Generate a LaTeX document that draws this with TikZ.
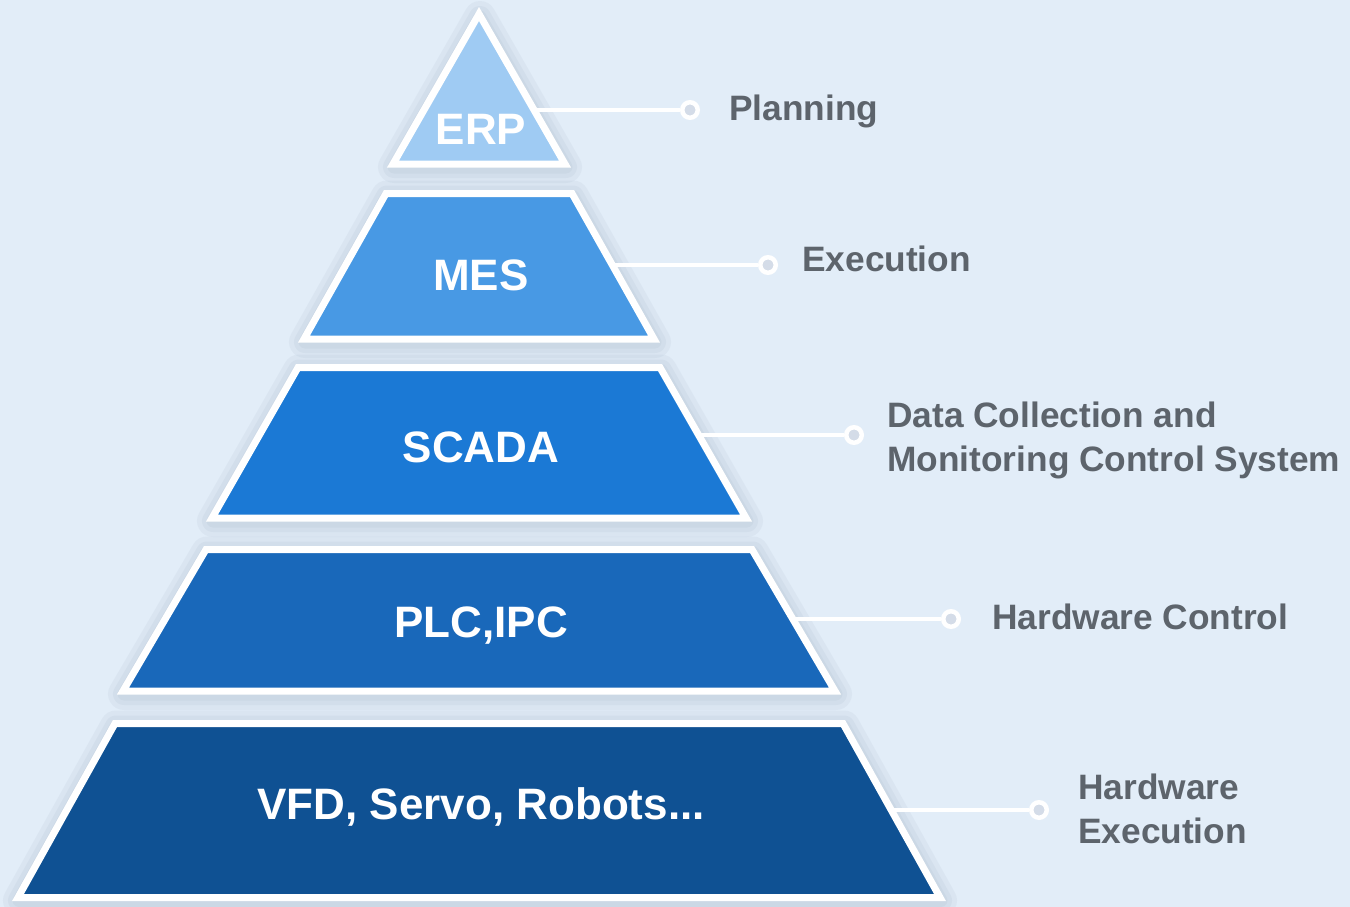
\documentclass[tikz,border=0pt]{standalone}
\usepackage{fontspec}
\setmainfont{Liberation Sans}
\definecolor{bgc}{HTML}{E2EDF8}
\definecolor{erpc}{HTML}{9FCBF3}
\definecolor{mesc}{HTML}{4899E4}
\definecolor{scadac}{HTML}{1B79D5}
\definecolor{plcc}{HTML}{1968BA}
\definecolor{basec}{HTML}{0F5193}
\definecolor{labelgray}{HTML}{5D646C}
\definecolor{dotfill}{HTML}{D4DCE8}
\definecolor{shadowc}{HTML}{7F93AA}
\begin{document}
\begin{tikzpicture}[x=1pt,y=-1pt,
  layer/.style={draw=white, line width=7pt, line join=miter, fill=#1},
  halo/.style={draw=shadowc, line join=round, opacity=0.08, line width=#1},
  inlabel/.style={text=white, font=\fontsize{44}{48}\selectfont\bfseries, inner sep=0pt, anchor=base},
  sidelabel/.style={text=labelgray, font=\fontsize{35.3}{43.5}\selectfont\bfseries, inner sep=0pt, anchor=base west, align=left},
  dot/.style={circle, draw=white, line width=4.5pt, fill=dotfill, minimum size=15.5pt, inner sep=0pt},
  link/.style={draw=white, line width=4pt}
]
\useasboundingbox (0,0) rectangle (1350,907);
\fill[bgc] (0,0) rectangle (1350,907);

% soft shadows
\def\erppath{(479,14) -- (565,164) -- (393,164) -- cycle}
\foreach \w in {32,22,13}{
  \draw[halo=\w, shift={(1,3)}] \erppath;
}
\foreach \ty/\thw/\by/\bhw in {193.5/93/339/175, 367.5/181/518/267, 549.5/273/691/356, 723.5/364/897.5/461}{
  \foreach \w in {32,22,13}{
    \draw[halo=\w, shift={(1,3)}] (479-\thw,\ty) -- (479+\thw,\ty) -- (479+\bhw,\by) -- (479-\bhw,\by) -- cycle;
  }
}

% layers
\draw[layer=erpc] \erppath;
\foreach \ty/\thw/\by/\bhw/\col in {193.5/93/339/175/mesc, 367.5/181/518/267/scadac, 549.5/273/691/356/plcc, 723.5/364/897.5/461/basec}{
  \draw[layer=\col] (479-\thw,\ty) -- (479+\thw,\ty) -- (479+\bhw,\by) -- (479-\bhw,\by) -- cycle;
}

% labels inside the pyramid
\node[inlabel] (erp) at (481,144) {ERP};
\node[inlabel] (mes) at (481,290) {MES};
\node[inlabel] (scada) at (481,462) {SCADA};
\node[inlabel] (plc) at (481,637) {PLC,IPC};
\node[inlabel] (vfd) at (481,819) {VFD, Servo, Robots...};

% connectors
\coordinate (erpR) at (535,110);
\coordinate (mesR) at (612,265);
\coordinate (scadaR) at (698,435);
\coordinate (plcR) at (792,619);
\coordinate (baseR) at (890,810);

\node[dot] (erpD) at (690,110) {};
\node[dot] (mesD) at (768,265) {};
\node[dot] (scadaD) at (854,435) {};
\node[dot] (plcD) at (951,619) {};
\node[dot] (baseD) at (1039,810) {};

\draw[link] (erpR) -- (erpD);
\draw[link] (mesR) -- (mesD);
\draw[link] (scadaR) -- (scadaD);
\draw[link] (plcR) -- (plcD);
\draw[link] (baseR) -- (baseD);

% side labels (base anchor = baseline of last line)
\node[sidelabel] (planning) at (729,120) {Planning};
\node[sidelabel] (execution) at (802,271) {Execution};
\node[sidelabel] (datacoll) at (887,471) {Data Collection and\\Monitoring Control System};
\node[sidelabel] (hwctrl) at (992,629) {Hardware Control};
\node[sidelabel] (hwexec) at (1078,843) {Hardware\\Execution};
\end{tikzpicture}
\end{document}
